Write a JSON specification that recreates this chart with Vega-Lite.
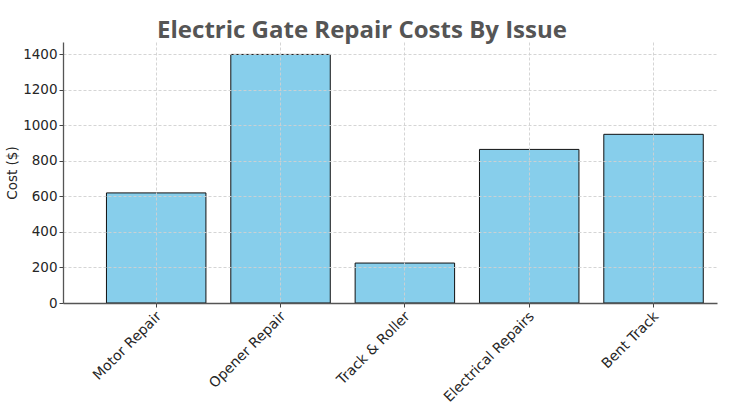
{
  "$schema": "https://vega.github.io/schema/vega-lite/v6.json",
  "width": 654,
  "height": 261,
  "autosize": "none",
  "padding": {"left": 63, "top": 42, "right": 13, "bottom": 102},
  "background": "white",
  "title": {
    "text": "Electric Gate Repair Costs By Issue",
    "font": "Open Sans",
    "fontSize": 24,
    "fontWeight": "bold",
    "color": "#555555",
    "anchor": "middle",
    "dx": -28,
    "dy": 27,
    "baseline": "alphabetic",
    "offset": 7
  },
  "data": {
    "values": [
      {"issue": "Motor Repair", "cost": 620},
      {"issue": "Opener Repair", "cost": 1400},
      {"issue": "Track & Roller", "cost": 225},
      {"issue": "Electrical Repairs", "cost": 865},
      {"issue": "Bent Track", "cost": 950}
    ]
  },
  "mark": {"type": "bar", "fill": "#87CEEB", "stroke": "#111111", "strokeWidth": 1},
  "encoding": {
    "x": {
      "field": "issue",
      "type": "nominal",
      "sort": null,
      "scale": {"paddingInner": 0.2, "paddingOuter": 0.23, "align": 0.76},
      "axis": {
        "title": null,
        "labelAngle": -45,
        "labelAlign": "right",
        "labelBaseline": "top",
        "labelFont": "DejaVu Sans",
        "labelFontSize": 14,
        "labelColor": "#262626",
        "labelPadding": 2,
        "labelOffset": -2,
        "tickSize": 4,
        "tickColor": "#444444",
        "domainColor": "#555555",
        "domainWidth": 1.3,
        "grid": true,
        "bandPosition": 0.5,
        "gridColor": "#d0d0d0",
        "gridDash": [3, 2],
        "gridWidth": 0.9,
        "zindex": 1
      }
    },
    "y": {
      "field": "cost",
      "type": "quantitative",
      "scale": {"domain": [0, 1470], "nice": false},
      "axis": {
        "title": "Cost ($)",
        "titleFont": "DejaVu Sans",
        "titleFontSize": 13.5,
        "titleFontWeight": "normal",
        "titleColor": "#262626",
        "titlePadding": 3,
        "values": [0, 200, 400, 600, 800, 1000, 1200, 1400],
        "format": "d",
        "labelFont": "DejaVu Sans",
        "labelFontSize": 13.5,
        "labelColor": "#262626",
        "labelPadding": 2,
        "tickSize": 4,
        "tickColor": "#444444",
        "domainColor": "#555555",
        "domainWidth": 1.3,
        "grid": true,
        "gridColor": "#d0d0d0",
        "gridDash": [3, 2],
        "gridWidth": 0.9,
        "zindex": 1
      }
    }
  },
  "config": {"view": {"stroke": null}}
}
